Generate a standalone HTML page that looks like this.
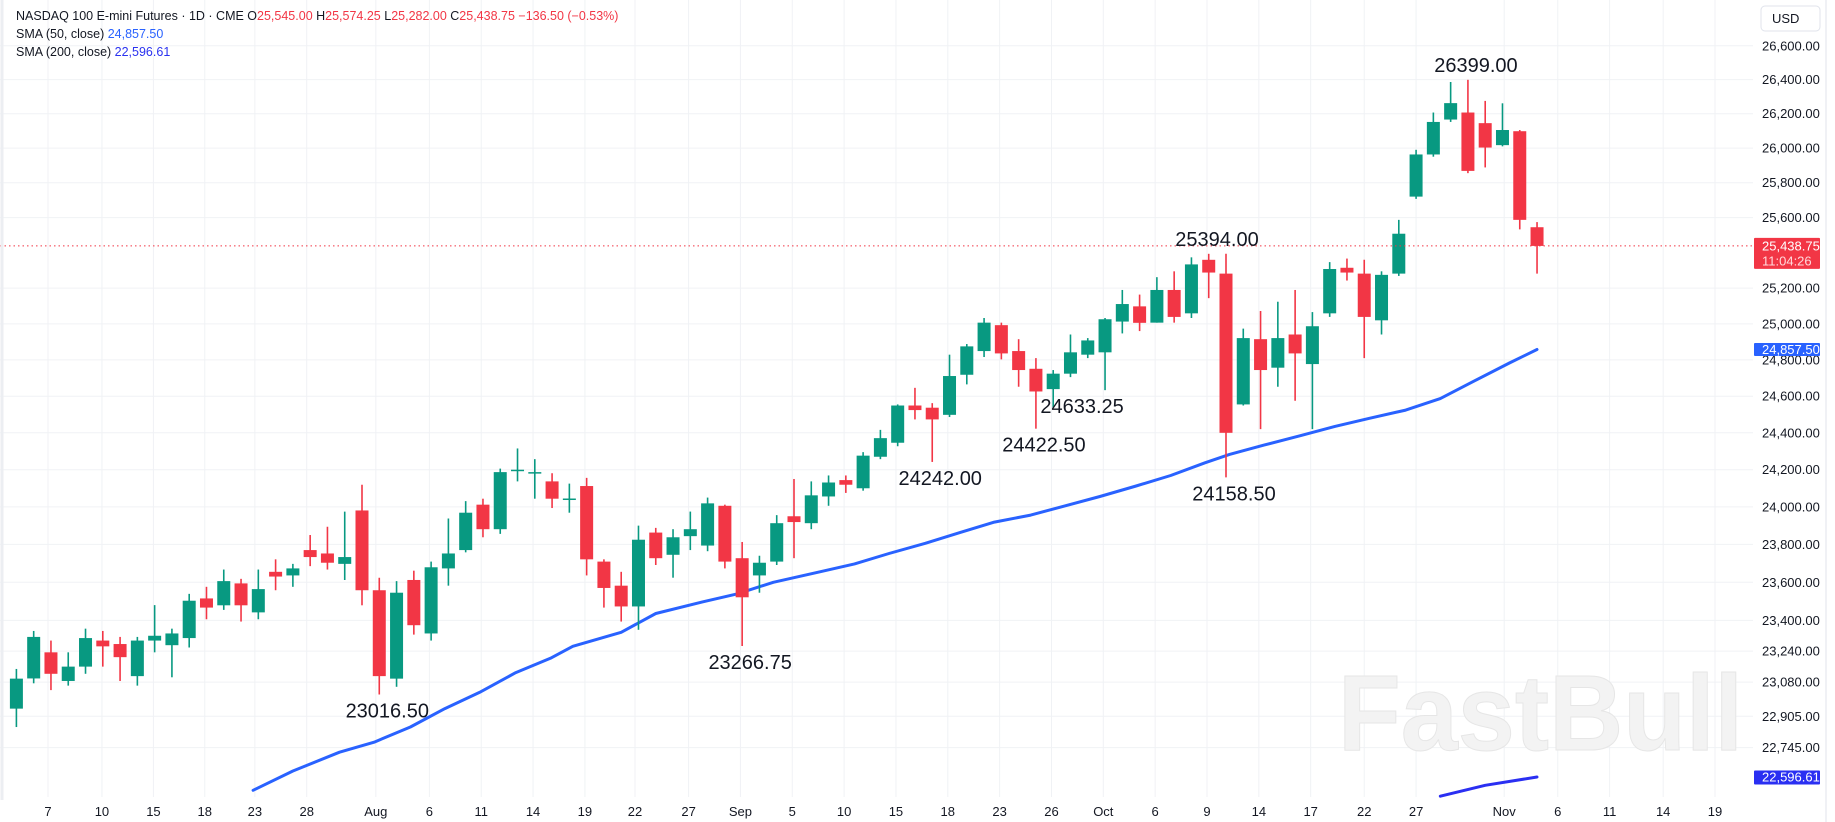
<!DOCTYPE html>
<html><head><meta charset="utf-8"><style>
html,body{margin:0;padding:0;background:#fff;}
svg{display:block;font-family:"Liberation Sans",sans-serif;}
</style></head><body>
<svg id="chart" width="1835" height="822" viewBox="0 0 1835 822" xmlns="http://www.w3.org/2000/svg">
<rect x="0" y="0" width="1835" height="822" fill="#fff"/>
<g id="grid"></g>
<text x="1338" y="750" font-size="108" font-weight="bold" fill="#f3f3f3" stroke="#e6e6e6" stroke-width="1" textLength="405" lengthAdjust="spacingAndGlyphs">FastBull</text>
<g id="sma200g"></g>
<g id="sma50g"></g>
<g id="candles"></g>
<g id="ann"></g>
<g id="yaxis"></g>
<g id="xaxis"></g>
<line x1="1826" y1="0" x2="1826" y2="822" stroke="#e0e3eb" stroke-width="1"/>
<line x1="2" y1="0" x2="2" y2="800" stroke="#eceef2" stroke-width="3"/>
<rect x="1761" y="6" width="59" height="25" rx="4" fill="#fff" stroke="#e0e3eb"/>
<text x="1772" y="23" font-size="13" fill="#131722">USD</text>
<g font-size="12.5">
<text x="16" y="20" fill="#131722">NASDAQ 100 E-mini Futures · 1D · CME  O<tspan fill="#f23645">25,545.00</tspan>  H<tspan fill="#f23645">25,574.25</tspan>  L<tspan fill="#f23645">25,282.00</tspan>  C<tspan fill="#f23645">25,438.75</tspan>  <tspan fill="#f23645">−136.50 (−0.53%)</tspan></text>
<text x="16" y="38" fill="#131722">SMA (50, close)  <tspan fill="#2962ff">24,857.50</tspan></text>
<text x="16" y="56" fill="#131722">SMA (200, close)  <tspan fill="#2a32f0">22,596.61</tspan></text>
</g>
</svg>
<script>
const opens=[22944,23099,23234,23086,23160,23295,23277,23111,23295,23271,23308,23515,23479,23594,23442,23655,23636,23770,23752,23697,23981,23558,23098,23612,23332,23673,23770,24012,23881,24195,24180,24137,24040,24112,23709,23582,23473,23863,23745,23844,23794,24006,23727,23636,23709,23950,23913,24056,24144,24100,24270,24346,24549,24537,24498,24718,24849,24993,24849,24751,24639,24724,24829,24842,25013,25098,25007,25190,25059,25360,25282,24555,24915,24757,24941,24777,25059,25315,25282,25020,25282,25720,25963,26166,26207,26145,26017,26098,25545];
const highs=[23148,23345,23295,23234,23357,23345,23314,23314,23480,23357,23539,23576,23667,23618,23667,23721,23697,23850,23894,23975,24119,23624,23606,23661,23709,23938,24031,24044,24206,24315,24257,24181,24125,24156,23721,23655,23900,23888,23881,23975,24050,24012,23813,23740,23956,24150,24137,24169,24169,24295,24416,24555,24646,24562,24829,24888,25033,25007,24915,24810,24744,24941,24921,25033,25190,25164,25262,25295,25374,25394,25394,24974,25072,25124,25190,25066,25347,25367,25360,25295,25587,25990,26207,26386,26399,26275,26261,26105,25574.25];
const lows=[22850,23074,23039,23062,23123,23160,23086,23062,23234,23105,23259,23406,23455,23394,23406,23558,23576,23685,23667,23612,23479,23016.5,23056,23326,23295,23582,23758,23838,23856,24137,24044,23994,23969,23636,23467,23394,23351,23691,23624,23770,23764,23673,23266.75,23545,23691,23727,23881,24006,24075,24087,24257,24327,24473,24242,24486,24665,24816,24803,24652,24422.5,24537,24705,24810,24633.25,24947,24960,25007,25007,25033,25144,24158.5,24549,24420,24652,24575,24420,25039,25243,24810,24941,25269,25707,25950,26152,25855,25888,26010,25533,25282];
const closes=[23098,23314,23123,23160,23308,23265,23209,23295,23320,23332,23503,23467,23606,23479,23564,23630,23673,23733,23703,23733,23558,23111,23545,23375,23679,23752,23969,23881,24187,24200,24187,24044,24045,23721,23570,23473,23825,23727,23838,23881,24019,23709,23521,23703,23913,23919,24062,24131,24119,24276,24371,24549,24524,24473,24711,24875,25007,24836,24744,24626,24724,24842,24908,25026,25111,25006,25190,25039,25334,25288,24400,24921,24744,24921,24836,24987,25308,25288,25039,25275,25508,25963,26152,26262,25868,26003,26105,25587,25438.75];
const sma50Idx=[13.7,16,18.7,20.7,22.8,24.8,26.8,28.9,30.9,32.2,35,37,39.7,41.7,43.8,46.5,48.5,50.5,52.6,54.6,56.6,58.7,60.7,62.7,64.8,66.8,68.8,70.2,72.2,74.3,76.3,78.3,80.4,82.4,84.4,86.4,88];
const sma50Val=[22530,22627,22722,22773,22850,22944,23027,23129,23203,23265,23338,23436,23497,23539,23600,23655,23697,23752,23806,23863,23919,23956,24006,24056,24112,24169,24238,24283,24333,24384,24435,24479,24524,24587,24685,24783,24857.5];
const sma200Idx=[82.4,85,88];
const sma200Val=[22500,22555,22596.61];
const priceTicks=[26600,26400,26200,26000,25800,25600,25200,25000,24800,24600,24400,24200,24000,23800,23600,23400,23240,23080,22905,22745];
const priceTickLabels=["26,600.00","26,400.00","26,200.00","26,000.00","25,800.00","25,600.00","25,200.00","25,000.00","24,800.00","24,600.00","24,400.00","24,200.00","24,000.00","23,800.00","23,600.00","23,400.00","23,240.00","23,080.00","22,905.00","22,745.00"];
const timeLabels=["7","10","15","18","23","28","Aug","6","11","14","19","22","27","Sep","5","10","15","18","23","26","Oct","6","9","14","17","22","27","Nov","6","11","14","19"];
const timeIdx=[1.83,4.95,7.93,10.9,13.8,16.8,20.8,23.9,26.9,29.9,32.9,35.8,38.9,41.9,44.9,47.9,50.9,53.9,56.9,59.9,62.9,65.9,68.9,71.9,74.9,78,81,86.1,89.2,92.2,95.3,98.3];
const annText=["26399.00","25394.00","24242.00","24422.50","24633.25","24158.50","23266.75","23016.50"];
const annIdx=[84,70,53,59,63,70,42,21];
const annPrice=[26399,25394,24242,24422.5,24633.25,24158.5,23266.75,23016.5];
const annSide=["high","high","low","low","low","low","low","low"];
const lastPrice=25438.75, lastPriceLabel="25,438.75", countdown="11:04:26";
const sma50Last="24,857.50", sma200Last="22,596.61";

const NS="http://www.w3.org/2000/svg";
const PLOT_R=1753, PLOT_B=797;
const LOGK=4483, TOPP=26600, TOPY=45.8;
function y(p){return TOPY+LOGK*Math.log(TOPP/p);}
const X0=16.4, STEP=17.28;
function x(i){return X0+i*STEP;}
function el(tag,attrs,parent){const e=document.createElementNS(NS,tag);for(const k in attrs)e.setAttribute(k,attrs[k]);parent.appendChild(e);return e;}
const G=id=>document.getElementById(id);

const grid=G('grid');
priceTicks.forEach(p=>{const l=el('line',{x1:0,x2:PLOT_R,y1:y(p),y2:y(p),stroke:'#f0f2f5','stroke-width':1},grid);

});
timeIdx.forEach(i=>{const l=el('line',{x1:x(i),x2:x(i),y1:0,y2:PLOT_B,stroke:'#f0f2f5','stroke-width':1},grid);

});

function line(idxs,vals,color,g,name){
  const d=idxs.map((i,k)=>(k?'L':'M')+x(i).toFixed(1)+','+Math.min(y(vals[k]),PLOT_B).toFixed(1)).join(' ');
  const p=el('path',{d:d,fill:'none',stroke:color,'stroke-width':3,'stroke-linejoin':'round','stroke-linecap':'round'},G(g));
  
  
}
line(sma50Idx,sma50Val,'#2962ff','sma50g','sma-50-line');
line(sma200Idx,sma200Val,'#2a2ff2','sma200g','sma-200-line');

const cg=G('candles');
opens.forEach((o,i)=>{
  const c=closes[i],up=c>=o,col=up?'#089981':'#f23645',cx=x(i);
  const w=el('line',{x1:cx,x2:cx,y1:y(highs[i]),y2:y(lows[i]),stroke:col,'stroke-width':1.6},cg);
  
  
  const top=y(Math.max(o,c)),bot=y(Math.min(o,c));
  const b=el('rect',{x:cx-6.5,y:top,width:13,height:Math.max(bot-top,1.5),fill:col},cg);
  
  
});

const pl=el('line',{x1:0,x2:PLOT_R,y1:y(lastPrice),y2:y(lastPrice),stroke:'#f23645','stroke-width':1,'stroke-dasharray':'1.5 3'},cg);



const ag=G('ann');
annText.forEach((t,k)=>{
  const yy=annSide[k]==='high'?y(annPrice[k])-8:y(annPrice[k])+23;
  const tx=el('text',{x:x(annIdx[k])+ (k===4?-23:k===1?-9:8),y:yy,'font-size':20,fill:'#131722','text-anchor':'middle'},ag);
  tx.textContent=t;
  
  
});

const ya=G('yaxis');
priceTicks.forEach((p,k)=>{const t=el('text',{x:1762,y:y(p)+4.5,'font-size':13,fill:'#131722'},ya);t.textContent=priceTickLabels[k];

});
function tag(p,fill,lines,name,h){
  const yy=y(p);
  const r=el('rect',{x:1754,y:yy-(lines.length>1?8:6.5),width:66,height:h,fill:fill,rx:1},ya);
  
  
  lines.forEach((s,k)=>{const t=el('text',{x:1762,y:yy+4.5+k*15,'font-size':13,fill:k?'#ffd9dc':'#fff'},ya);t.textContent=s;
  
  });
}
tag(lastPrice,'#f23645',[lastPriceLabel,countdown],'last-price-tag',31);
tag(sma50Val[sma50Val.length-1],'#2962ff',[sma50Last],'sma-50-tag',13);
tag(sma200Val[sma200Val.length-1],'#2a2ff2',[sma200Last],'sma-200-tag',14);

const xa=G('xaxis');
timeLabels.forEach((s,k)=>{const t=el('text',{x:x(timeIdx[k]),y:816,'font-size':13,fill:'#131722','text-anchor':'middle'},xa);t.textContent=s;

});
</script>
</body></html>
